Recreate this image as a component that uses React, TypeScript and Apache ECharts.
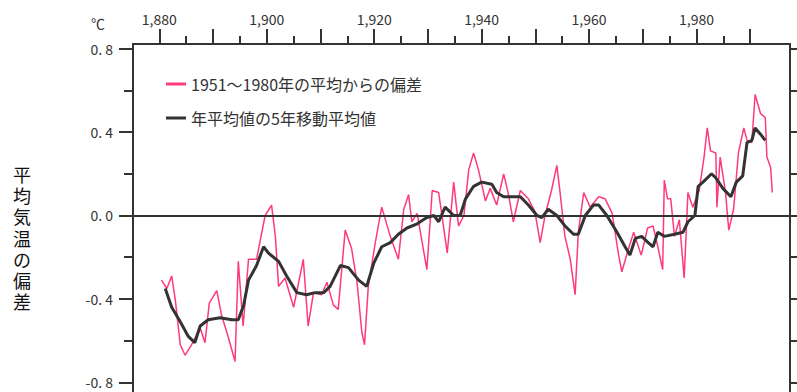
import React, { useEffect, useRef } from "react";
import * as echarts from "echarts";

// 1951～1980年の平均からの偏差
const pinkYears = [
  1880.4, 1881.4, 1882.3, 1883.0, 1883.9, 1884.8, 1886.0, 1887.6, 1888.5, 1889.3,
  1890.7, 1891.6, 1892.8, 1894.1, 1894.7, 1895.6, 1896.6, 1898.1, 1899.7, 1900.9,
  1901.6, 1902.2, 1903.4, 1905.0, 1906.8, 1907.7, 1908.7, 1910.2, 1911.2, 1912.4,
  1913.3, 1914.6, 1915.8, 1916.8, 1917.7, 1918.2, 1918.9, 1920.2, 1921.4, 1923.0,
  1924.5, 1925.5, 1926.4, 1927.0, 1928.0, 1929.8, 1930.8, 1932.0, 1933.6, 1934.8,
  1935.7, 1936.7, 1937.6, 1938.5, 1939.4, 1940.7, 1941.6, 1942.8, 1944.1, 1945.0,
  1945.9, 1947.2, 1948.7, 1949.9, 1950.9, 1951.8, 1953.0, 1954.0, 1954.6, 1955.5,
  1956.5, 1957.4, 1958.0, 1959.0, 1960.2, 1961.8, 1963.0, 1964.3, 1965.5, 1966.1,
  1967.1, 1968.3, 1969.7, 1970.9, 1971.9, 1972.8, 1973.7, 1974.0, 1974.6, 1975.2,
  1975.9, 1976.8, 1977.7, 1978.4, 1979.3, 1980.5, 1981.4, 1982.0, 1982.6, 1983.6,
  1983.8, 1984.4, 1985.4, 1986.0, 1986.9, 1987.8, 1988.8, 1989.4, 1990.3, 1990.9,
  1991.9, 1992.8, 1993.1, 1993.8, 1994.1,
];
const pinkValues = [
  -0.31, -0.35, -0.29, -0.41, -0.62, -0.67, -0.62, -0.54, -0.61, -0.42,
  -0.36, -0.48, -0.58, -0.70, -0.22, -0.53, -0.21, -0.21, 0.0, 0.05,
  -0.10, -0.34, -0.30, -0.44, -0.21, -0.53, -0.37, -0.38, -0.32, -0.43,
  -0.45, -0.07, -0.16, -0.32, -0.56, -0.62, -0.34, -0.13, 0.04, -0.10,
  -0.21, 0.03, 0.10, -0.03, 0.01, -0.26, 0.12, 0.11, -0.18, 0.16,
  -0.05, 0.0, 0.22, 0.30, 0.22, 0.07, 0.13, 0.05, 0.20, 0.10,
  -0.03, 0.12, 0.08, 0.02, -0.13, 0.0, 0.12, 0.24, 0.11, -0.10,
  -0.21, -0.38, -0.08, 0.11, 0.04, 0.09, 0.08, 0.01, -0.19, -0.27,
  -0.18, -0.08, -0.19, -0.06, -0.05, -0.15, -0.26, 0.17, 0.08, 0.08,
  -0.10, -0.02, -0.30, 0.11, 0.04, 0.12, 0.28, 0.42, 0.31, 0.30,
  0.04, 0.28, 0.11, -0.07, 0.03, 0.30, 0.42, 0.36, 0.35, 0.58,
  0.49, 0.47, 0.28, 0.23, 0.11,
];

// 年平均値の5年移動平均値
const avgYears = [
  1881.1, 1882.3, 1883.9, 1885.4, 1886.6, 1887.6, 1889.1, 1891.3, 1893.5, 1894.7,
  1895.7, 1896.6, 1898.1, 1899.4, 1900.3, 1902.2, 1903.7, 1905.6, 1907.4, 1909.0,
  1910.6, 1911.8, 1913.7, 1915.2, 1917.1, 1918.6, 1919.9, 1921.4, 1923.0, 1924.5,
  1926.1, 1928.0, 1929.8, 1931.1, 1932.0, 1933.2, 1934.8, 1936.0, 1937.0, 1938.5,
  1940.0, 1941.9, 1942.8, 1944.1, 1947.2, 1948.7, 1950.3, 1951.2, 1952.4, 1954.0,
  1955.5, 1957.1, 1958.0, 1959.3, 1960.8, 1961.8, 1963.3, 1965.2, 1966.7, 1967.6,
  1968.6, 1969.8, 1971.0, 1971.9, 1972.8, 1974.0, 1975.9, 1977.5, 1978.4, 1979.7,
  1980.3, 1981.2, 1982.8, 1983.6, 1984.9, 1986.4, 1987.4, 1988.6, 1989.4, 1990.3,
  1990.9, 1991.9, 1992.8,
];
const avgValues = [
  -0.35, -0.44, -0.51, -0.58, -0.61, -0.53, -0.50, -0.49, -0.50, -0.50,
  -0.43, -0.31, -0.24, -0.15, -0.18, -0.22, -0.29, -0.37, -0.38, -0.37,
  -0.37, -0.34, -0.24, -0.25, -0.31, -0.34, -0.23, -0.15, -0.13, -0.09,
  -0.06, -0.04, -0.01, 0.0, -0.03, 0.04, 0.0, 0.0, 0.08, 0.14,
  0.16, 0.15, 0.11, 0.09, 0.09, 0.05, 0.0, -0.01, 0.03, 0.0,
  -0.05, -0.09, -0.09, 0.0, 0.05, 0.05, 0.0, -0.08, -0.15, -0.19,
  -0.11, -0.10, -0.13, -0.15, -0.08, -0.10, -0.09, -0.08, -0.03, 0.0,
  0.14, 0.16, 0.20, 0.18, 0.13, 0.09, 0.16, 0.19, 0.35, 0.36,
  0.42, 0.39, 0.36,
];

const yearLabels = [1880, 1900, 1920, 1940, 1960, 1980];
const decadeTicks = [1880, 1890, 1900, 1910, 1920, 1930, 1940, 1950, 1960, 1970, 1980, 1990];
const fiveYearTicks = [1885, 1895, 1905, 1915, 1925, 1935, 1945, 1955, 1965, 1975, 1985];
const yLabelValues = [-0.8, -0.4, 0, 0.4, 0.8];
const yMinorValues = [-0.6, -0.2, 0.2, 0.6];
const yRightValues = [-0.8, -0.6, -0.4, -0.2, 0, 0.2, 0.4, 0.6, 0.8];
const yAxisTitleChars = ["平", "均", "気", "温", "の", "偏", "差"];
const unitLabel = "℃";

const pinkName = "1951～1980年の平均からの偏差";
const avgName = "年平均値の5年移動平均値";

const FONT = "'Noto Sans CJK JP', 'Noto Sans', sans-serif";
const PINK = "#ff3a7c";
const DARK = "#333333";

const X_MIN = 1875.1;
const X_MAX = 1997.4;
const Y_MIN = -0.8465;
const Y_MAX = 0.8225;
const GRID = { left: 133, right: 7, top: 44, bottom: 0 };

export default function App() {
  const mainRef = useRef<HTMLDivElement>(null);
  const topRef = useRef<HTMLDivElement>(null);
  useEffect(() => {
    if (!mainRef.current || !topRef.current) return;
    const chart = echarts.init(mainRef.current, undefined, { renderer: "svg" });
    const topChart = echarts.init(topRef.current, undefined, { renderer: "svg" });
    const fmt = (v: number) => {
      const s = Math.abs(v).toFixed(1).replace(".", ". ");
      return (v < -0.001 ? "-" : "") + s;
    };
    chart.setOption({
      animation: false,
      backgroundColor: "#ffffff",
      textStyle: { fontFamily: FONT },
      grid: GRID,
      legend: {
        orient: "vertical",
        left: 161,
        top: 71,
        itemWidth: 20,
        itemHeight: 3,
        itemGap: 18,
        icon: "rect",
        textStyle: { fontSize: 16, color: "#333" },
        data: [pinkName, avgName],
      },
      xAxis: [
        {
          type: "value",
          position: "top",
          min: X_MIN,
          max: X_MAX,
          axisLine: { show: false, onZero: false },
          axisTick: { show: false },
          axisLabel: { show: false },
          splitLine: { show: false },
        },
      ],
      yAxis: [
        {
          type: "value",
          position: "left",
          min: Y_MIN,
          max: Y_MAX,
          axisLine: { show: true, onZero: false, lineStyle: { color: DARK, width: 2 } },
          axisTick: { show: true, customValues: yLabelValues, length: 14, lineStyle: { color: DARK, width: 2 } },
          axisLabel: {
            customValues: yLabelValues,
            margin: 20,
            fontSize: 14,
            color: "#333",
            formatter: fmt,
          },
          splitLine: { show: false },
        },
        {
          type: "value",
          position: "left",
          min: Y_MIN,
          max: Y_MAX,
          axisLine: { show: false, onZero: false },
          axisTick: { show: true, customValues: yMinorValues, length: 9, lineStyle: { color: DARK, width: 2 } },
          axisLabel: { show: false },
          splitLine: { show: false },
        },
        {
          type: "value",
          position: "right",
          min: Y_MIN,
          max: Y_MAX,
          axisLine: { show: true, onZero: false, lineStyle: { color: DARK, width: 2 } },
          axisTick: { show: true, customValues: yRightValues, length: 8, lineStyle: { color: DARK, width: 2 } },
          axisLabel: { show: false },
          splitLine: { show: false },
        },
      ],
      graphic: [
        {
          type: "text",
          left: 91,
          top: 16,
          style: { text: unitLabel, fontSize: 14, fill: "#333", fontFamily: FONT },
        },
        ...yAxisTitleChars.map((ch, i) => ({
          type: "text",
          x: 22,
          y: 174 + i * 21.2,
          style: {
            text: ch,
            fontSize: 18,
            fill: "#111",
            fontFamily: FONT,
            align: "center",
            verticalAlign: "middle",
          },
        })),
      ],
      series: [
        {
          name: pinkName,
          type: "line",
          symbol: "none",
          data: pinkYears.map((y, i) => [y, pinkValues[i]]),
          lineStyle: { color: PINK, width: 1.5 },
          itemStyle: { color: PINK },
          z: 3,
        },
        {
          name: avgName,
          type: "line",
          symbol: "none",
          data: avgYears.map((y, i) => [y, avgValues[i]]),
          lineStyle: { color: DARK, width: 3 },
          itemStyle: { color: DARK },
          z: 4,
          markLine: {
            silent: true,
            symbol: "none",
            label: { show: false },
            lineStyle: { color: DARK, width: 2, type: "solid" },
            data: [{ yAxis: 0 }],
          },
        },
      ],
    });
    // Top year axis: drawn by a second, transparent chart with the same grid and scales
    topChart.setOption({
      animation: false,
      textStyle: { fontFamily: FONT },
      grid: GRID,
      xAxis: [
        {
          type: "value",
          position: "top",
          min: X_MIN,
          max: X_MAX,
          axisLine: { show: true, onZero: false, lineStyle: { color: DARK, width: 2 } },
          axisTick: { show: true, customValues: decadeTicks, length: 15, lineStyle: { color: DARK, width: 2 } },
          axisLabel: {
            customValues: yearLabels,
            margin: 18,
            fontSize: 14,
            color: "#333",
          },
          splitLine: { show: false },
        },
        {
          type: "value",
          position: "top",
          min: X_MIN,
          max: X_MAX,
          axisLine: { show: false, onZero: false },
          axisTick: { show: true, customValues: fiveYearTicks, length: 8, lineStyle: { color: DARK, width: 2 } },
          axisLabel: { show: false },
          splitLine: { show: false },
        },
      ],
      yAxis: [
        {
          type: "value",
          min: Y_MIN,
          max: Y_MAX,
          axisLine: { show: false, onZero: false },
          axisTick: { show: false },
          axisLabel: { show: false },
          splitLine: { show: false },
        },
      ],
      series: [{ type: "line", symbol: "none", silent: true, data: [] }],
    });
    return () => {
      chart.dispose();
      topChart.dispose();
    };
  }, []);
  return (
    <div style={{ position: "fixed", left: 0, top: 0, width: 797, height: 392, background: "#fff" }}>
      <div ref={mainRef} style={{ position: "absolute", left: 0, top: 0, width: 797, height: 392 }} />
      <div
        ref={topRef}
        style={{ position: "absolute", left: 0, top: 0, width: 797, height: 392, pointerEvents: "none" }}
      />
    </div>
  );
}
